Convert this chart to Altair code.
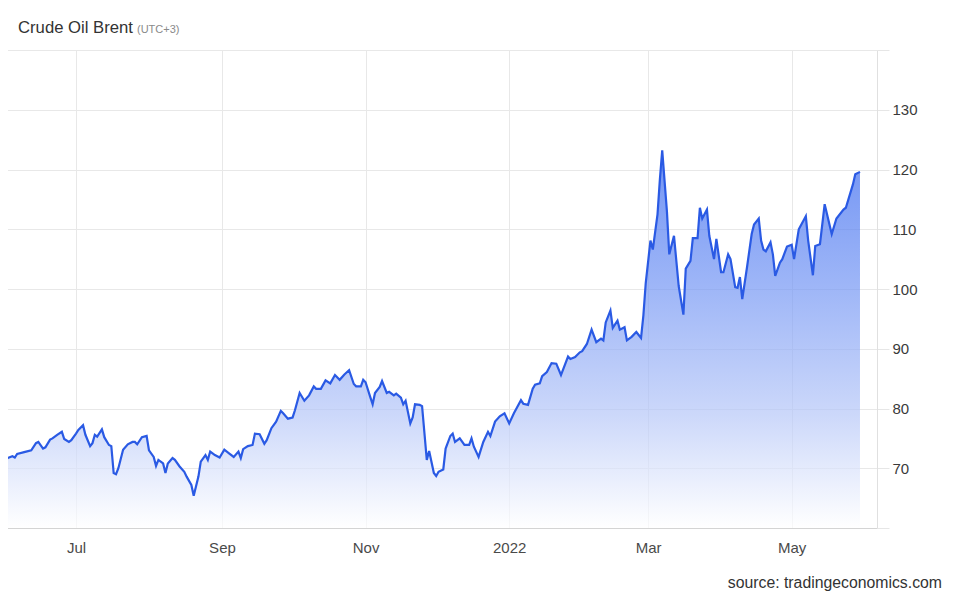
import altair as alt
import pandas as pd

TITLE = "Crude Oil Brent"
TIMEZONE = "(UTC+3)"
SOURCE = "source: tradingeconomics.com"

DATES = [
    "2021-05-30", "2021-06-01", "2021-06-02", "2021-06-04", "2021-06-05", "2021-06-06",
    "2021-06-09", "2021-06-12", "2021-06-14", "2021-06-15", "2021-06-17", "2021-06-18",
    "2021-06-20", "2021-06-21", "2021-06-23", "2021-06-25", "2021-06-26", "2021-06-28",
    "2021-06-29", "2021-07-01", "2021-07-02", "2021-07-04", "2021-07-05", "2021-07-07",
    "2021-07-08", "2021-07-09", "2021-07-10", "2021-07-12", "2021-07-13", "2021-07-15",
    "2021-07-16", "2021-07-17", "2021-07-18", "2021-07-19", "2021-07-21", "2021-07-23",
    "2021-07-25", "2021-07-26", "2021-07-27", "2021-07-29", "2021-07-31", "2021-08-01",
    "2021-08-03", "2021-08-04", "2021-08-05", "2021-08-07", "2021-08-08", "2021-08-09",
    "2021-08-11", "2021-08-12", "2021-08-14", "2021-08-16", "2021-08-17", "2021-08-19",
    "2021-08-20", "2021-08-22", "2021-08-23", "2021-08-25", "2021-08-26", "2021-08-27",
    "2021-08-29", "2021-08-31", "2021-09-02", "2021-09-04", "2021-09-06", "2021-09-08",
    "2021-09-09", "2021-09-10", "2021-09-12", "2021-09-14", "2021-09-15", "2021-09-17",
    "2021-09-19", "2021-09-20", "2021-09-22", "2021-09-24", "2021-09-26", "2021-09-27",
    "2021-09-29", "2021-10-01", "2021-10-02", "2021-10-04", "2021-10-06", "2021-10-08",
    "2021-10-10", "2021-10-11", "2021-10-13", "2021-10-15", "2021-10-17", "2021-10-19",
    "2021-10-21", "2021-10-23", "2021-10-25", "2021-10-27", "2021-10-28", "2021-10-30",
    "2021-10-31", "2021-11-01", "2021-11-03", "2021-11-04", "2021-11-05", "2021-11-07",
    "2021-11-08", "2021-11-10", "2021-11-11", "2021-11-13", "2021-11-14", "2021-11-16",
    "2021-11-17", "2021-11-18", "2021-11-20", "2021-11-21", "2021-11-22", "2021-11-24",
    "2021-11-25", "2021-11-27", "2021-11-28", "2021-11-30", "2021-12-01", "2021-12-02",
    "2021-12-04", "2021-12-05", "2021-12-07", "2021-12-08", "2021-12-09", "2021-12-11",
    "2021-12-13", "2021-12-15", "2021-12-16", "2021-12-17", "2021-12-19", "2021-12-21",
    "2021-12-23", "2021-12-24", "2021-12-26", "2021-12-28", "2021-12-30", "2022-01-01",
    "2022-01-03", "2022-01-06", "2022-01-07", "2022-01-09", "2022-01-11", "2022-01-12",
    "2022-01-14", "2022-01-15", "2022-01-17", "2022-01-19", "2022-01-21", "2022-01-23",
    "2022-01-26", "2022-01-27", "2022-01-29", "2022-01-31", "2022-02-01", "2022-02-03",
    "2022-02-05", "2022-02-07", "2022-02-09", "2022-02-10", "2022-02-11", "2022-02-13",
    "2022-02-14", "2022-02-16", "2022-02-17", "2022-02-19", "2022-02-20", "2022-02-22",
    "2022-02-24", "2022-02-26", "2022-02-27", "2022-02-28", "2022-03-02", "2022-03-03",
    "2022-03-05", "2022-03-06", "2022-03-07", "2022-03-09", "2022-03-10", "2022-03-12",
    "2022-03-14", "2022-03-16", "2022-03-17", "2022-03-19", "2022-03-20", "2022-03-22",
    "2022-03-23", "2022-03-24", "2022-03-26", "2022-03-27", "2022-03-29", "2022-03-30",
    "2022-04-01", "2022-04-02", "2022-04-04", "2022-04-05", "2022-04-07", "2022-04-08",
    "2022-04-09", "2022-04-10", "2022-04-12", "2022-04-14", "2022-04-15", "2022-04-17",
    "2022-04-18", "2022-04-19", "2022-04-20", "2022-04-22", "2022-04-23", "2022-04-24",
    "2022-04-26", "2022-04-27", "2022-04-29", "2022-05-01", "2022-05-02", "2022-05-04",
    "2022-05-07", "2022-05-08", "2022-05-10", "2022-05-11", "2022-05-13", "2022-05-15",
    "2022-05-18", "2022-05-20", "2022-05-23", "2022-05-24", "2022-05-27", "2022-05-28",
    "2022-05-30",
]

PRICES = [
    69.4, 71.4, 71.7, 72.0, 71.8, 72.4,
    72.7, 73.0, 74.2, 74.4, 73.3, 73.5,
    74.8, 75.0, 75.6, 76.1, 74.9, 74.4,
    74.7, 75.8, 76.4, 77.2, 75.6, 73.7,
    74.2, 75.6, 75.3, 76.5, 75.2, 73.9,
    73.7, 69.2, 69.0, 70.0, 73.1, 74.0,
    74.4, 74.4, 74.0, 75.2, 75.4, 73.0,
    71.9, 70.4, 71.4, 70.8, 69.2, 70.8,
    71.7, 71.4, 70.3, 69.4, 68.6, 67.2,
    65.4, 68.6, 71.1, 72.2, 71.4, 72.8,
    72.2, 71.8, 73.1, 72.5, 71.9, 72.8,
    71.7, 73.2, 73.7, 73.9, 75.8, 75.7,
    74.1, 74.7, 76.7, 77.8, 79.6, 79.2,
    78.3, 78.5, 79.7, 82.6, 81.3, 82.2,
    83.7, 83.3, 83.3, 84.7, 84.2, 85.6,
    84.8, 85.7, 86.4, 84.1, 83.7, 83.7,
    84.8, 84.4, 81.9, 80.7, 82.6, 83.6,
    84.6, 82.6, 82.8, 82.2, 82.5, 81.8,
    80.7, 81.3, 77.5, 78.5, 80.7, 80.6,
    80.4, 71.4, 72.9, 69.2, 68.7, 69.4,
    69.8, 73.3, 75.4, 75.8, 74.4, 75.0,
    73.9, 73.9, 75.0, 73.6, 71.9, 74.4,
    76.1, 75.4, 77.8, 78.7, 79.2, 77.5,
    79.2, 81.4, 80.8, 80.6, 83.3, 84.0,
    84.2, 85.4, 86.1, 87.6, 87.5, 85.6,
    88.7, 88.3, 88.6, 89.4, 89.6, 90.8,
    93.2, 91.1, 91.7, 91.4, 94.4, 96.4,
    93.5, 94.7, 93.2, 93.6, 91.4, 92.0,
    92.8, 91.8, 95.6, 101.0, 108.1, 106.6,
    112.5, 118.3, 123.2, 113.0, 105.8, 108.9,
    100.5, 95.7, 103.4, 104.7, 108.5, 108.5,
    113.6, 111.8, 113.3, 108.9, 105.0, 108.4,
    102.8, 102.8, 105.8, 105.0, 100.3, 100.2,
    102.0, 98.3, 103.6, 109.2, 110.8, 111.8,
    108.1, 106.6, 106.3, 107.8, 105.8, 102.2,
    104.4, 105.0, 107.1, 107.4, 105.0, 110.0,
    112.2, 108.1, 102.3, 107.2, 107.5, 114.2,
    109.2, 111.8, 113.3, 113.6, 117.5, 119.2,
    119.6,
]

X_TICKS = [(2021, 7), (2021, 9), (2021, 11), (2022, 1), (2022, 3), (2022, 5)]
Y_TICKS = [60, 70, 80, 90, 100, 110, 120, 130, 140]
Y_MIN, Y_MAX = 60, 140

FONT = "Liberation Sans"

df = pd.DataFrame({"date": pd.to_datetime(DATES), "price": PRICES})

x_axis = alt.Axis(
    values=[alt.DateTime(year=y, month=m, date=1) for y, m in X_TICKS],
    labelExpr="month(datum.value) == 0 ? timeFormat(datum.value, '%Y') : timeFormat(datum.value, '%b')",
    title=None,
    ticks=False,
    grid=True,
    gridColor="#e8e8e8",
    domainColor="#d4d4d4",
    labelPadding=12,
    labelFont=FONT,
    labelFontSize=15,
    labelColor="#4a4a4a",
    labelFlush=False,
)

y_axis = alt.Axis(
    orient="right",
    values=Y_TICKS,
    labelExpr="datum.value >= 70 && datum.value <= 130 ? datum.value : ''",
    title=None,
    grid=True,
    gridColor="#e8e8e8",
    domainColor="#e0e0e0",
    tickColor="#e6e6e6",
    tickSize=12,
    labelPadding=3,
    labelFont=FONT,
    labelFontSize=15,
    labelColor="#3a3a3a",
)

area = alt.Chart(df).mark_area(
    clip=True,
    line={"color": "#2a5ae4", "strokeWidth": 2.2},
    color=alt.Gradient(
        gradient="linear",
        stops=[
            alt.GradientStop(color="#ffffff", offset=0),
            alt.GradientStop(color="#b6c7f8", offset=0.3),
            alt.GradientStop(color="#7899f4", offset=0.62),
            alt.GradientStop(color="#3566ef", offset=1),
        ],
        x1=1, x2=1, y1=1, y2=0,
    ),
).encode(
    x=alt.X("date:T", axis=x_axis,
            scale=alt.Scale(domain=[
                alt.DateTime(year=2021, month=5, date=29, hours=17, minutes=16),
                alt.DateTime(year=2022, month=6, date=6, hours=5, minutes=30),
            ])),
    y=alt.Y("price:Q", axis=y_axis,
            scale=alt.Scale(domain=[Y_MIN, Y_MAX], nice=False, zero=False)),
    y2=alt.datum(Y_MIN),
)

title = alt.Chart(pd.DataFrame({"t": [TITLE]})).mark_text(
    align="left", baseline="alphabetic", font=FONT, fontSize=16.7, color="#333333"
).encode(text="t:N", x=alt.value(18), y=alt.value(-17))

tz = alt.Chart(pd.DataFrame({"t": [TIMEZONE]})).mark_text(
    align="left", baseline="alphabetic", font=FONT, fontSize=11, color="#8a8a8a"
).encode(text="t:N", x=alt.value(137), y=alt.value(-17))

source = alt.Chart(pd.DataFrame({"t": [SOURCE]})).mark_text(
    align="right", baseline="alphabetic", font=FONT, fontSize=15.8, color="#333333"
).encode(text="t:N", x=alt.value(942), y=alt.value(538))

chart = alt.layer(area, title, tz, source).properties(
    width=877,
    height=478,
    autosize=alt.AutoSizeParams(type="none"),
    padding={"left": -8, "top": 42, "right": 70, "bottom": 64},
).configure_view(stroke=None)

chart.save("out.html", embed_options={"renderer": "svg", "actions": False})
